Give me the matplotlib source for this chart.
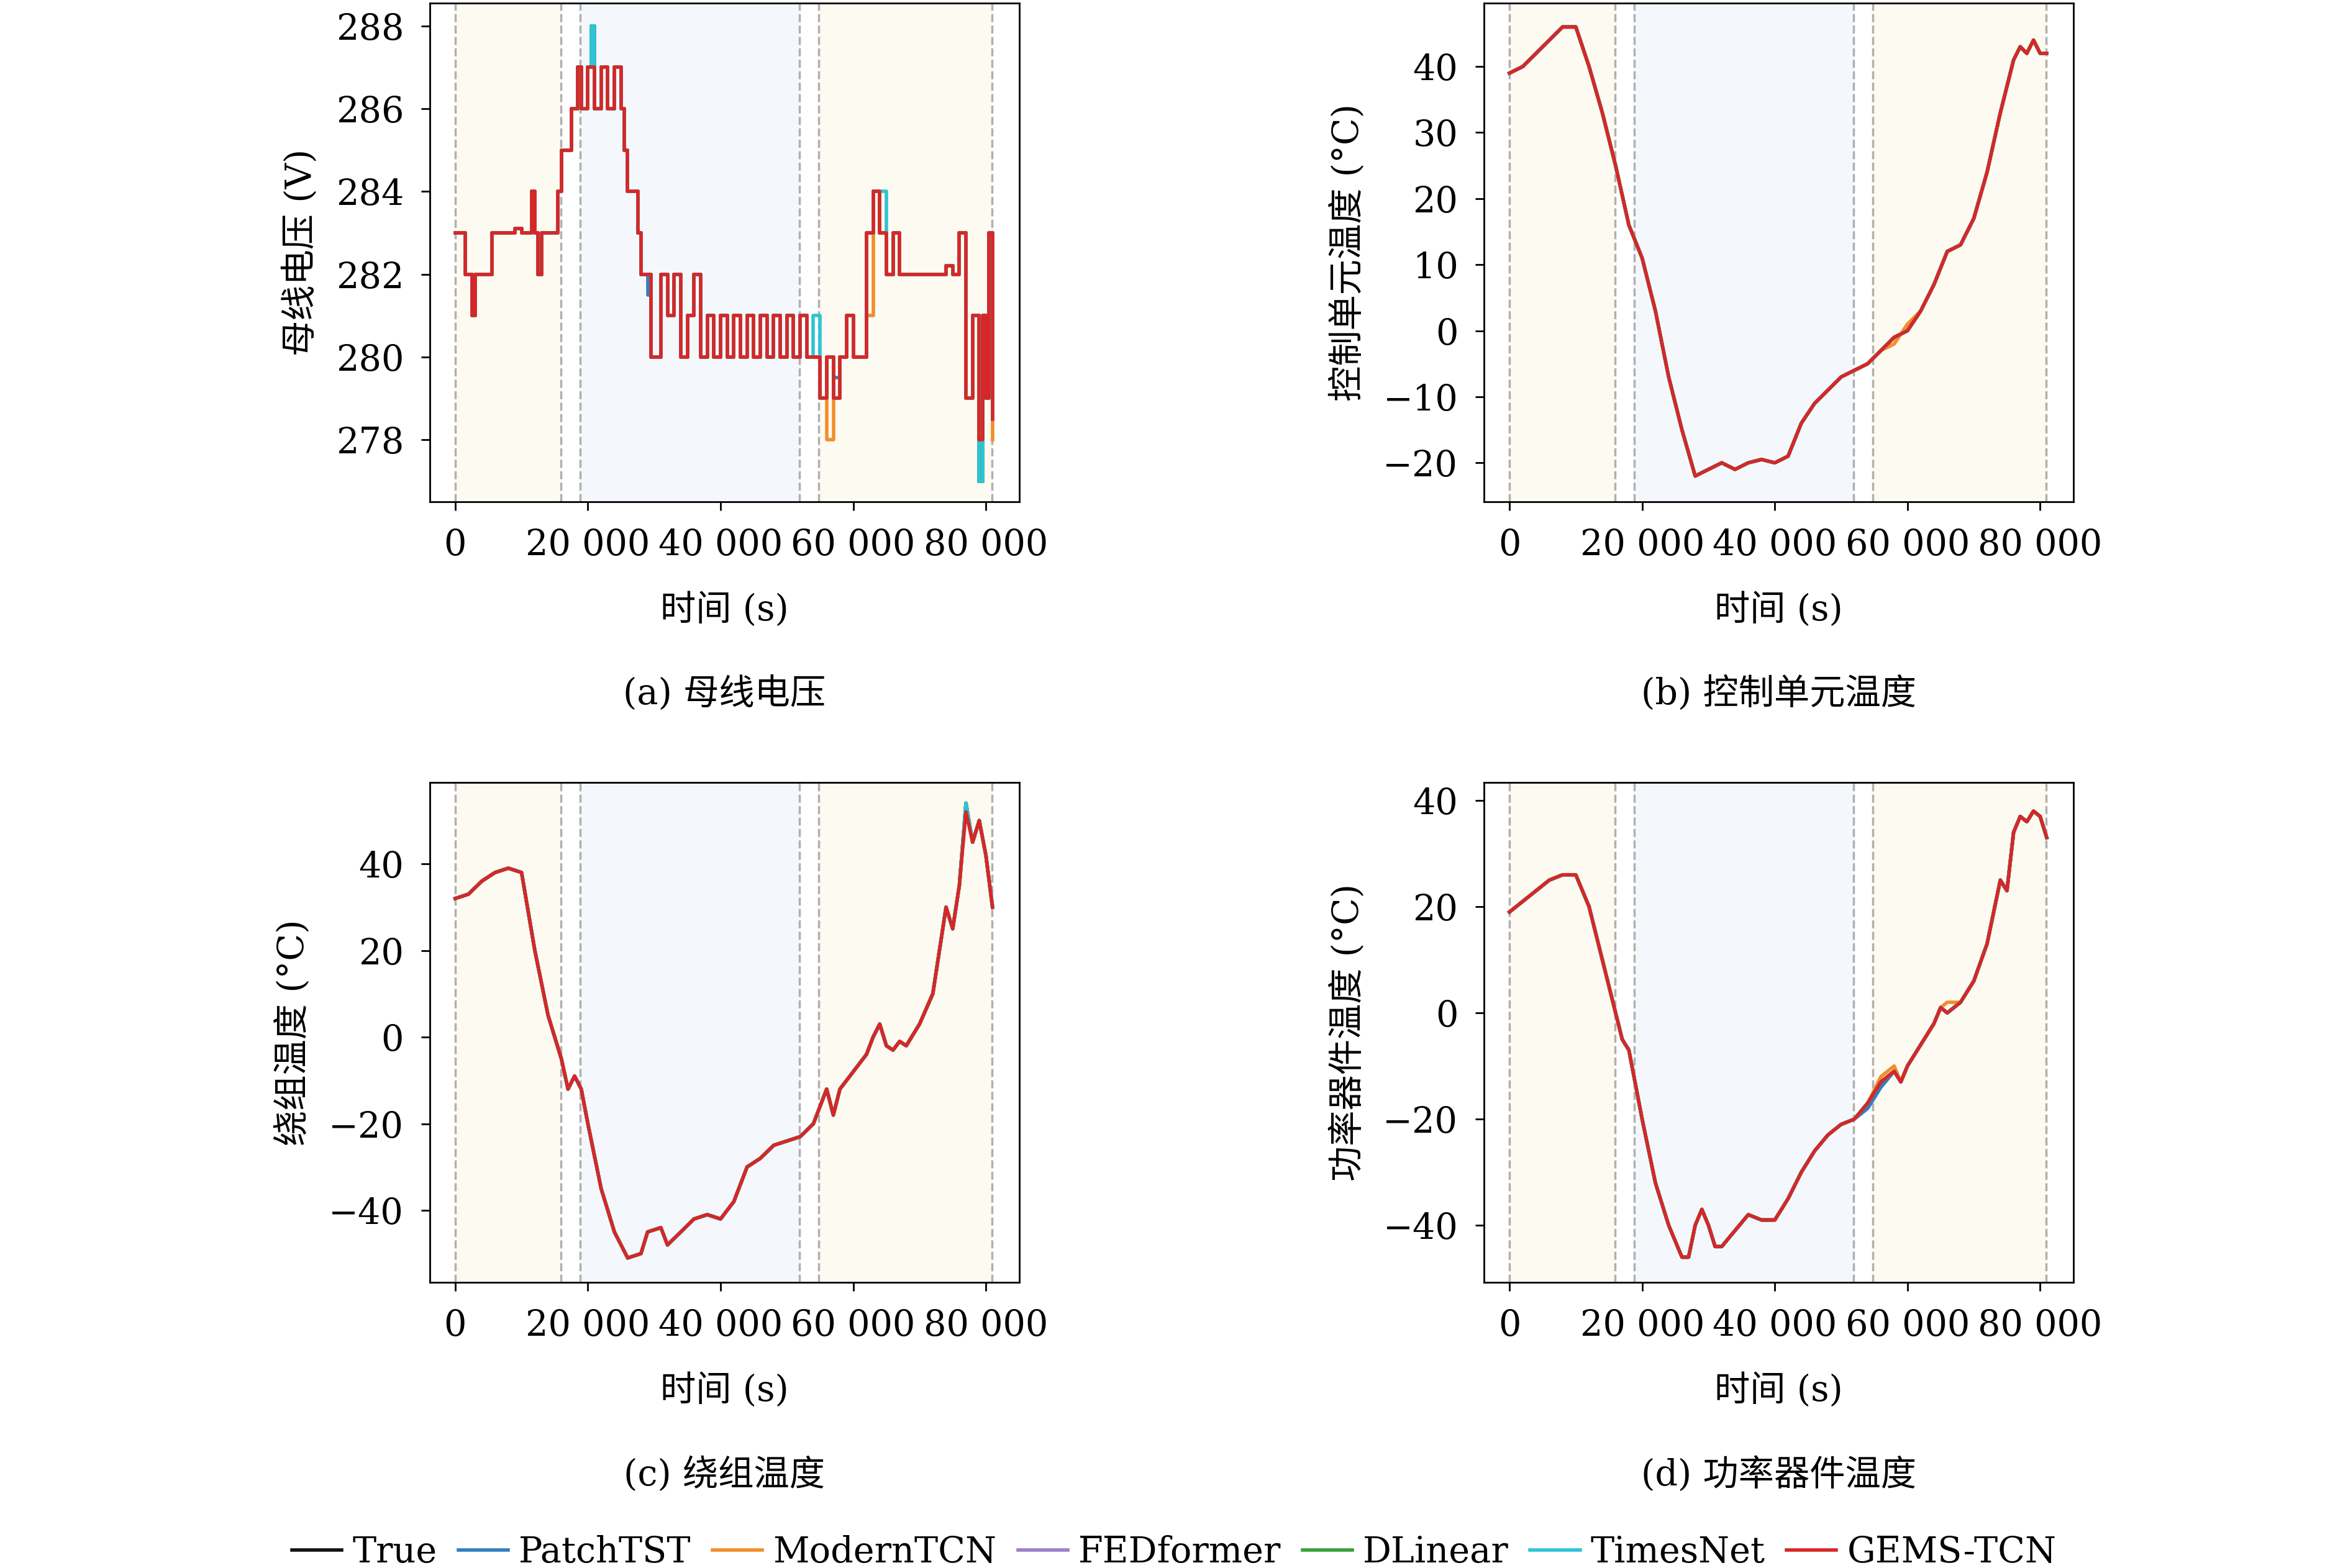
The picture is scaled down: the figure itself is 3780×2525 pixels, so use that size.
import matplotlib
matplotlib.use("Agg")
import matplotlib.pyplot as plt
import matplotlib.ticker as mt
import numpy as np

plt.rcParams['font.family'] = ['DejaVu Serif', 'Noto Sans CJK SC']
plt.rcParams['axes.unicode_minus'] = True

# time knots (s)
t_a = [0,1000,1500,2000,2500,3000,4000,5000,5500,7000,8000,9000,10000,11000,11500,12000,12500,13000,14000,15000,15500,16000,17000,17500,18000,18500,19000,20000,20500,21000,22000,23000,24000,25000,25500,26000,27000,27500,28000,29000,29500,30000,31000,32000,33000,34000,35000,36000,37000,38000,39000,40000,41000,42000,43000,44000,45000,46000,47000,48000,49000,50000,51000,52000,53000,54000,55000,56000,57000,58000,59000,60000,61000,62000,63000,64000,65000,66000,67000,68000,69000,70000,71000,72000,73000,74000,75000,76000,77000,78000,79000,79500,80000,80500,81000]
v_a = [283,283,282,282,281,282,282,282,283,283,283,283.1,283,283,284,283,282,283,283,283,284,285,285,286,286,287,286,287,288,286,287,286,287,286,285,284,284,283,282,282,280,280,282,281,282,280,281,282,280,281,280,281,280,281,280,281,280,281,280,281,280,281,280,281,280,280,279,280,279,280,281,280,280,283,284,283,282,283,282,282,282,282,282,282,282,282.2,282,283,279,281,277,281,279,283,278.5]

t_b = [0,2000,4000,6000,8000,10000,12000,14000,16000,18000,20000,22000,24000,26000,28000,30000,32000,34000,36000,38000,40000,42000,44000,46000,48000,50000,52000,54000,56000,58000,60000,62000,64000,66000,68000,70000,72000,74000,76000,77000,78000,79000,80000,81000]
v_b = [39,40,42,44,46,46,40,33,25,16,11,3,-7,-15,-22,-21,-20,-21,-20,-19.5,-20,-19,-14,-11,-9,-7,-6,-5,-3,-1,0,3,7,12,13,17,24,33,41,43,42,44,42,42]

t_c = [0,2000,4000,6000,8000,10000,12000,14000,16000,17000,18000,19000,20000,22000,24000,26000,28000,29000,31000,32000,34000,36000,38000,40000,42000,44000,46000,48000,50000,52000,54000,55000,56000,57000,58000,60000,62000,63000,64000,65000,66000,67000,68000,70000,72000,73000,74000,75000,76000,77000,78000,79000,80000,81000]
v_c = [32,33,36,38,39,38,20,5,-5,-12,-9,-12,-20,-35,-45,-51,-50,-45,-44,-48,-45,-42,-41,-42,-38,-30,-28,-25,-24,-23,-20,-16,-12,-18,-12,-8,-4,0,3,-2,-3,-1,-2,3,10,20,30,25,35,54,45,50,42,30]

t_d = [0,2000,4000,6000,8000,10000,12000,14000,16000,17000,18000,20000,22000,24000,26000,27000,28000,29000,30000,31000,32000,34000,36000,38000,40000,42000,44000,46000,48000,50000,52000,54000,56000,58000,59000,60000,62000,64000,65000,66000,68000,70000,72000,74000,75000,76000,77000,78000,79000,80000,81000]
v_d = [19,21,23,25,26,26,20,10,0,-5,-7,-20,-32,-40,-46,-46,-40,-37,-40,-44,-44,-41,-38,-39,-39,-35,-30,-26,-23,-21,-20,-17,-13,-11,-13,-10,-6,-2,1,0,2,6,13,25,23,34,37,36,38,37,33]

models = ['True', 'PatchTST', 'ModernTCN', 'FEDformer', 'DLinear', 'TimesNet', 'GEMS-TCN']
colors = ['#111111', '#2f7fc1', '#f28e2b', '#9b7fc8', '#3aa13a', '#2ec4d6', '#d62728']
# per-model deviations from True: {model: {panel: [(time, value), ...]}}
edits = {
    'PatchTST': {'a': [(29000, 281.5), (57000, 279.5)], 'd': [(54000, -18), (56000, -14)]},
    'ModernTCN': {'a': [(56000, 278), (62000, 281), (79000, 278), (81000, 278)],
                  'b': [(58000, -2), (60000, 1)], 'd': [(56000, -12), (58000, -10), (66000, 2)]},
    'FEDformer': {}, 'DLinear': {}, 'TimesNet': {'a': [(54000, 281), (64000, 284)]},
    'GEMS-TCN': {'a': [(20500, 287), (79000, 278)], 'c': [(77000, 52)]},
}

panels = {'a': (t_a, v_a), 'b': (t_b, v_b), 'c': (t_c, v_c), 'd': (t_d, v_d)}
ylabels = {'a': '母线电压 (V)', 'b': '控制单元温度 (°C)', 'c': '绕组温度 (°C)', 'd': '功率器件温度 (°C)'}
captions = {'a': '(a) 母线电压', 'b': '(b) 控制单元温度', 'c': '(c) 绕组温度', 'd': '(d) 功率器件温度'}
ylims = {'a': (276.5, 288.55), 'b': (-25.9, 49.6), 'c': (-56.7, 58.8), 'd': (-50.8, 43.4)}
yticks = {'a': [278, 280, 282, 284, 286, 288], 'b': [-20, -10, 0, 10, 20, 30, 40],
          'c': [-40, -20, 0, 20, 40], 'd': [-40, -20, 0, 20, 40]}
pos = {'a': [0.183, 0.680, 0.251, 0.318], 'b': [0.632, 0.680, 0.251, 0.318],
       'c': [0.183, 0.182, 0.251, 0.319], 'd': [0.632, 0.182, 0.251, 0.319]}
vlines = [0, 15900, 18800, 51900, 54800, 80900]

fig = plt.figure(figsize=(15.12, 10.1), dpi=250)
fs = 16.5
handles = []
for key in 'abcd':
    ax = fig.add_axes(pos[key])
    t, v = panels[key]
    ax.axvspan(0, 15900, color='#fcfaf1', zorder=0)
    ax.axvspan(54800, 80900, color='#fcfaf1', zorder=0)
    ax.axvspan(18800, 51900, color='#f4f8fd', zorder=0)
    for x in vlines:
        ax.axvline(x, color='#b0b0b0', ls='--', lw=1.0, zorder=1)
    for m, c in zip(models, colors):
        vv = list(v)
        for (tt, val) in edits.get(m, {}).get(key, []):
            if tt in t:
                vv[t.index(tt)] = val
        if key == 'a':
            h, = ax.step(t, vv, where='post', color=c, lw=1.6, label=m, zorder=2)
            handles.append(h)
        else:
            ax.plot(t, vv, color=c, lw=1.6, label=m, zorder=2)
    ax.set_xlim(-3850, 85000)
    ax.set_ylim(*ylims[key])
    ax.set_yticks(yticks[key])
    ax.set_xticks([0, 20000, 40000, 60000, 80000])
    ax.xaxis.set_major_formatter(mt.FuncFormatter(lambda x, p: f"{int(x):,}".replace(',', ' ')))
    ax.tick_params(labelsize=fs, direction='out', length=4, pad=8)
    ax.set_xlabel('时间 (s)', fontsize=fs, labelpad=14)
    ax.set_ylabel(ylabels[key], fontsize=fs, labelpad=8)
    ax.text(0.5, -0.385, captions[key], transform=ax.transAxes, ha='center', va='center', fontsize=fs)

fig.legend(handles=handles, labels=models, loc='center', bbox_to_anchor=(0.5, 0.01), ncol=7,
           frameon=False, fontsize=fs, handlelength=1.4, columnspacing=0.6, handletextpad=0.3)
fig.savefig('out.png', dpi=250)
